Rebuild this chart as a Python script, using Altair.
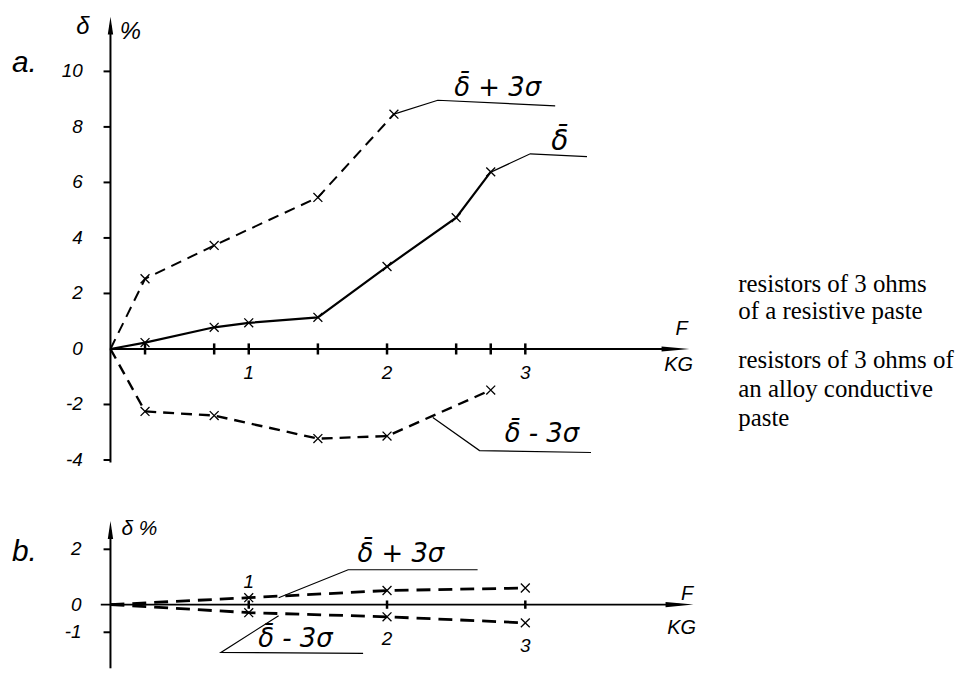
import altair as alt
import pandas as pd

# ---------------- data ----------------
# panel a: resistors of 3 ohms of a resistive paste
A_F = [0, 0.25, 0.75, 1, 1.5, 2, 2.5, 2.75]
A_MEAN = [0, 0.23, 0.78, 0.94, 1.14, 2.97, 4.73, 6.38]
A_PLUS_F = [0, 0.25, 0.75, 1.5, 2.05]
A_PLUS = [0, 2.53, 3.73, 5.46, 8.46]
A_MINUS_F = [0, 0.25, 0.75, 1.5, 2, 2.75]
A_MINUS = [0, -2.25, -2.4, -3.23, -3.14, -1.48]
A_XTICKS = [0.25, 0.75, 1, 1.5, 2, 2.5, 2.75, 3]
A_XLABELS = ["1", "2", "3"]
A_YTICKS = [10, 8, 6, 4, 2, -2, -4]
A_YLABELS = ["10", "8", "6", "4", "2", "0", "-2", "-4"]

# panel b: resistors of 3 ohms of an alloy conductive paste
B_F = [0, 1, 2, 3]
B_PLUS = [0, 0.25, 0.51, 0.60]
B_MINUS = [0, -0.29, -0.44, -0.66]
B_XTICKS = [1, 2, 3]
B_XLABELS = ["1", "2", "3"]
B_YTICKS = [2, -1]
B_YLABELS = ["2", "0", "-1"]

SIDE_TEXT = ["resistors of 3 ohms", "of a resistive paste",
             "resistors of 3 ohms of", "an alloy conductive", "paste"]

MEAN = "\u03b4\u0304"
LBL_PLUS = MEAN + " + 3\u03c3"
LBL_MINUS = MEAN + " - 3\u03c3"

# ---------------- layout ----------------
W = 966
XD = [-0.741, -0.741 + W / 139.0]
HA, YDA = 472, [-4.695, 12.222]
HB, YDB = 190, [-2.302, 4.532]

HAND = "Liberation Sans"
GREEK = "DejaVu Sans"
XSHAPE = "M-1,-1L1,1M-1,1L1,-1"
UP = "M0,-1L-0.3,1L0.3,1Z"
RIGHT = "M1,0L-1,-0.18L-1,0.18Z"


def enc(yd):
    return dict(
        x=alt.X("x:Q", scale=alt.Scale(domain=XD, nice=False, zero=False), axis=None),
        y=alt.Y("y:Q", scale=alt.Scale(domain=yd, nice=False, zero=False), axis=None),
    )


def segs(rows):
    return pd.DataFrame(rows, columns=["x", "y", "x2", "y2"])


def rules(rows, yd, width):
    e = enc(yd)
    return alt.Chart(segs(rows)).mark_rule(color="black", strokeWidth=width).encode(
        x=e["x"], y=e["y"], x2="x2:Q", y2="y2:Q")


def curve(xs, ys, yd, dash=None, width=2.0):
    df = pd.DataFrame({"x": xs, "y": ys})
    kw = dict(color="black", strokeWidth=width)
    if dash:
        kw["strokeDash"] = dash
    return alt.Chart(df).mark_line(**kw).encode(**enc(yd))


def marks(xs, ys, yd):
    df = pd.DataFrame({"x": xs[1:], "y": ys[1:]})
    return alt.Chart(df).mark_point(shape=XSHAPE, size=80, filled=False,
                                    strokeWidth=1.3, color="black", opacity=1).encode(**enc(yd))


def leader(pts, yd):
    df = pd.DataFrame({"x": [p[0] for p in pts], "y": [p[1] for p in pts], "o": list(range(len(pts)))})
    return alt.Chart(df).mark_line(color="black", strokeWidth=1.2).encode(order="o:O", **enc(yd))


def texts(items, yd, size, font=HAND, style="italic", align="center", baseline="middle"):
    df = pd.DataFrame(items, columns=["x", "y", "t"])
    return alt.Chart(df).mark_text(font=font, fontStyle=style, fontSize=size, align=align,
                                   baseline=baseline, color="black").encode(text="t:N", **enc(yd))


def arrow(x, y, shape, size, yd):
    df = pd.DataFrame({"x": [x], "y": [y]})
    return alt.Chart(df).mark_point(shape=shape, size=size, filled=True, color="black",
                                    opacity=1, strokeWidth=0).encode(**enc(yd))


# ---------------- panel a ----------------
A_YVALS = [10, 8, 6, 4, 2, 0, -2, -4]
SIDE_Y = [2.043, 1.075, -0.681, -1.72, -2.76]
pa = alt.layer(
    rules([(0, 0, 4.086, 0), (0, -4.09, 0, 11.65)], YDA, 2),
    rules([(t, -0.2, t, 0.2) for t in A_XTICKS], YDA, 2.5),
    rules([(-0.05, t, 0, t) for t in A_YTICKS], YDA, 2),
    arrow(4.086, 0, RIGHT, 784, YDA),
    arrow(0, 11.65, UP, 324, YDA),
    curve(A_F, A_MEAN, YDA, width=2.2),
    curve(A_PLUS_F, A_PLUS, YDA, dash=[11, 7], width=2.0),
    curve(A_MINUS_F, A_MINUS, YDA, dash=[11, 7], width=2.4),
    marks(A_F, A_MEAN, YDA),
    marks(A_PLUS_F, A_PLUS, YDA),
    marks(A_MINUS_F, A_MINUS, YDA),
    leader([(2.05, 8.46), (2.367, 8.96), (3.216, 8.76)], YDA),
    leader([(2.755, 6.38), (3.036, 7.03), (3.446, 6.93)], YDA),
    leader([(2.331, -2.47), (2.669, -3.66), (3.475, -3.73)], YDA),
    texts([(-0.2, v, l) for v, l in zip(A_YVALS, A_YLABELS)], YDA, 19, align="right"),
    texts([(float(l), -0.85, l) for l in A_XLABELS], YDA, 19),
    texts([(4.13, 0.7, "F"), (4.108, -0.58, "KG")], YDA, 20),
    texts([(-0.2, 11.6, "\u03b4"), (0.144, 11.43, "%")], YDA, 24),
    texts([(-0.712, 10.3, "a.")], YDA, 30, align="left"),
    texts([(2.8, 9.4, LBL_PLUS)], YDA, 26, font=GREEK),
    texts([(3.25, 7.45, MEAN)], YDA, 28, font=GREEK),
    texts([(3.12, -3.08, LBL_MINUS)], YDA, 26, font=GREEK),
    texts([(4.54, y, t) for y, t in zip(SIDE_Y, SIDE_TEXT)],
          YDA, 25, font="Liberation Serif", style="normal", align="left", baseline="alphabetic"),
).properties(width=W, height=HA)

# ---------------- panel b ----------------
B_YVALS = [2, 0, -1]
pb = alt.layer(
    rules([(-0.07, 0, 4.115, 0), (0, YDB[0], 0, 2.70)], YDB, 2),
    rules([(t, -0.15, t, 0.15) for t in B_XTICKS], YDB, 2.5),
    rules([(-0.05, t, 0, t) for t in B_YTICKS], YDB, 2),
    arrow(4.115, 0, RIGHT, 784, YDB),
    arrow(0, 2.70, UP, 324, YDB),
    curve(B_F, B_PLUS, YDB, dash=[14, 8], width=2.8),
    curve(B_F, B_MINUS, YDB, dash=[14, 8], width=2.8),
    marks(B_F, B_PLUS, YDB),
    marks(B_F, B_MINUS, YDB),
    leader([(1.216, 0.25), (1.719, 1.26), (2.655, 1.26)], YDB),
    leader([(1.216, -0.40), (0.799, -1.73), (1.827, -1.76)], YDB),
    texts([(-0.209, v, l) for v, l in zip(B_YVALS, B_YLABELS)], YDB, 19, align="right"),
    texts([(1.0, 0.8, B_XLABELS[0]), (2.0, -1.25, B_XLABELS[1]), (3.0, -1.5, B_XLABELS[2])], YDB, 19),
    texts([(4.17, 0.38, "F"), (4.13, -0.86, "KG")], YDB, 20),
    texts([(0.209, 2.73, "\u03b4 %")], YDB, 21),
    texts([(-0.712, 1.9, "b.")], YDB, 30, align="left"),
    texts([(2.10, 1.83, LBL_PLUS)], YDB, 26, font=GREEK),
    texts([(1.338, -1.26, LBL_MINUS)], YDB, 26, font=GREEK),
).properties(width=W, height=HB)

chart = alt.vconcat(pa, pb, spacing=0).properties(
    padding=0, bounds="flush", background="white"
).configure_view(stroke=None)

chart.save("out.html", embed_options={"renderer": "svg", "actions": False})
